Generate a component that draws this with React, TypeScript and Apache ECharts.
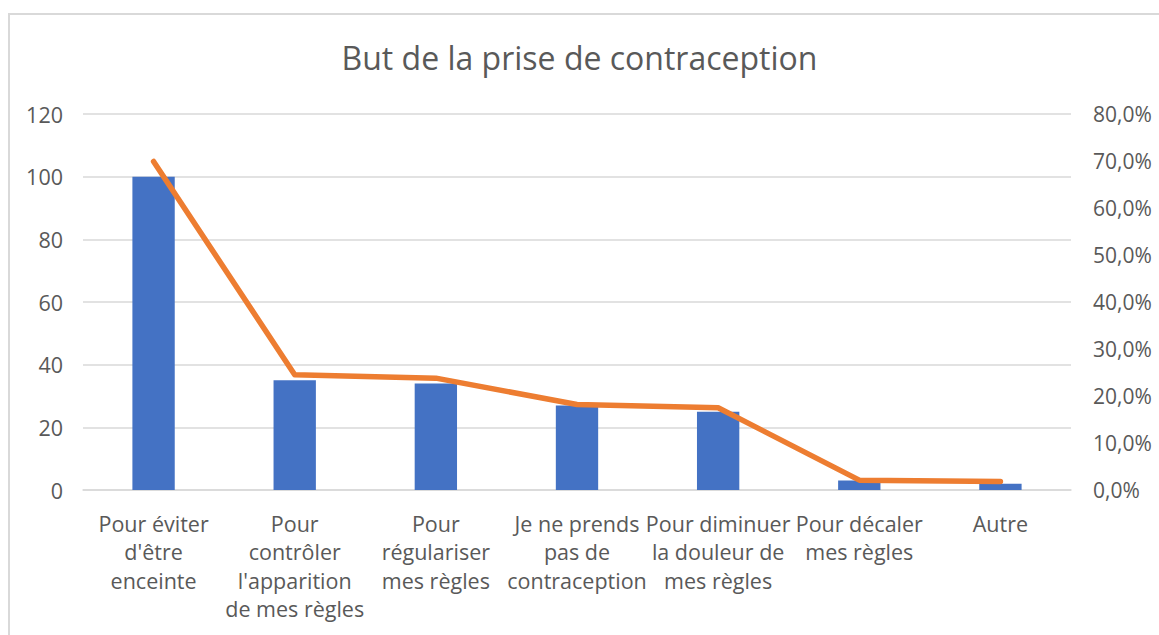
import React, { useEffect, useRef } from "react";
import * as echarts from "echarts";

const categories = [
  "Pour éviter\nd'être\nenceinte",
  "Pour\ncontrôler\nl'apparition\nde mes règles",
  "Pour\nrégulariser\nmes règles",
  "Je ne prends\npas de\ncontraception",
  "Pour diminuer\nla douleur de\nmes règles",
  "Pour décaler\nmes règles",
  "Autre",
];
const counts = [100, 35, 34, 27, 25, 3, 2];
const percents = [69.9, 24.5, 23.8, 18.2, 17.5, 2.1, 1.8];
const title = "But de la prise de contraception";

const FONT = "'Open Sans', 'Noto Sans', sans-serif";
const TXT = "#595959";

export default function App() {
  const ref = useRef<HTMLDivElement>(null);
  useEffect(() => {
    if (!ref.current) return;
    const chart = echarts.init(ref.current, undefined, { renderer: "svg" });
    chart.setOption({
      animation: false,
      backgroundColor: "#ffffff",
      textStyle: { fontFamily: FONT },
      title: {
        text: title,
        left: "center",
        top: 36,
        textStyle: { fontFamily: FONT, fontSize: 32, fontWeight: "normal", color: TXT },
      },
      graphic: [
        {
          type: "rect",
          shape: { x: 9, y: 14, width: 1300, height: 800 },
          style: { fill: "none", stroke: "#d9d9d9", lineWidth: 2 },
          silent: true,
        },
      ],
      grid: { left: 83, right: 88, top: 114, bottom: 145, containLabel: false },
      xAxis: {
        type: "category",
        data: categories,
        axisTick: { show: false },
        axisLine: { lineStyle: { color: "#d9d9d9", width: 1.5 } },
        axisLabel: {
          interval: 0,
          color: TXT,
          fontSize: 21.5,
          fontFamily: FONT,
          lineHeight: 28.5,
          margin: 19,
          align: "center",
        },
      },
      yAxis: [
        {
          type: "value",
          min: 0,
          max: 120,
          interval: 20,
          axisLine: { show: false },
          axisTick: { show: false },
          splitLine: { lineStyle: { color: "#d9d9d9", width: 1.5 } },
          axisLabel: { color: TXT, fontSize: 21.5, fontFamily: FONT, margin: 20 },
        },
        {
          type: "value",
          min: 0,
          max: 80,
          interval: 10,
          position: "right",
          axisLine: { show: false },
          axisTick: { show: false },
          splitLine: { show: false },
          axisLabel: {
            color: TXT,
            fontSize: 21,
            fontFamily: FONT,
            margin: 22,
            formatter: (v: number) => v.toFixed(1).replace(".", ",") + "%",
          },
        },
      ],
      series: [
        {
          type: "bar",
          data: counts,
          yAxisIndex: 0,
          barWidth: "30%",
          itemStyle: { color: "#4472C4" },
        },
        {
          type: "line",
          data: percents,
          yAxisIndex: 1,
          symbol: "none",
          lineStyle: { color: "#ED7D31", width: 5.5, cap: "round", join: "round" },
          itemStyle: { color: "#ED7D31" },
        },
      ],
    });
    return () => chart.dispose();
  }, []);
  return (
    <div
      ref={ref}
      style={{ position: "fixed", left: 0, top: 0, width: 1159, height: 635 }}
    />
  );
}
